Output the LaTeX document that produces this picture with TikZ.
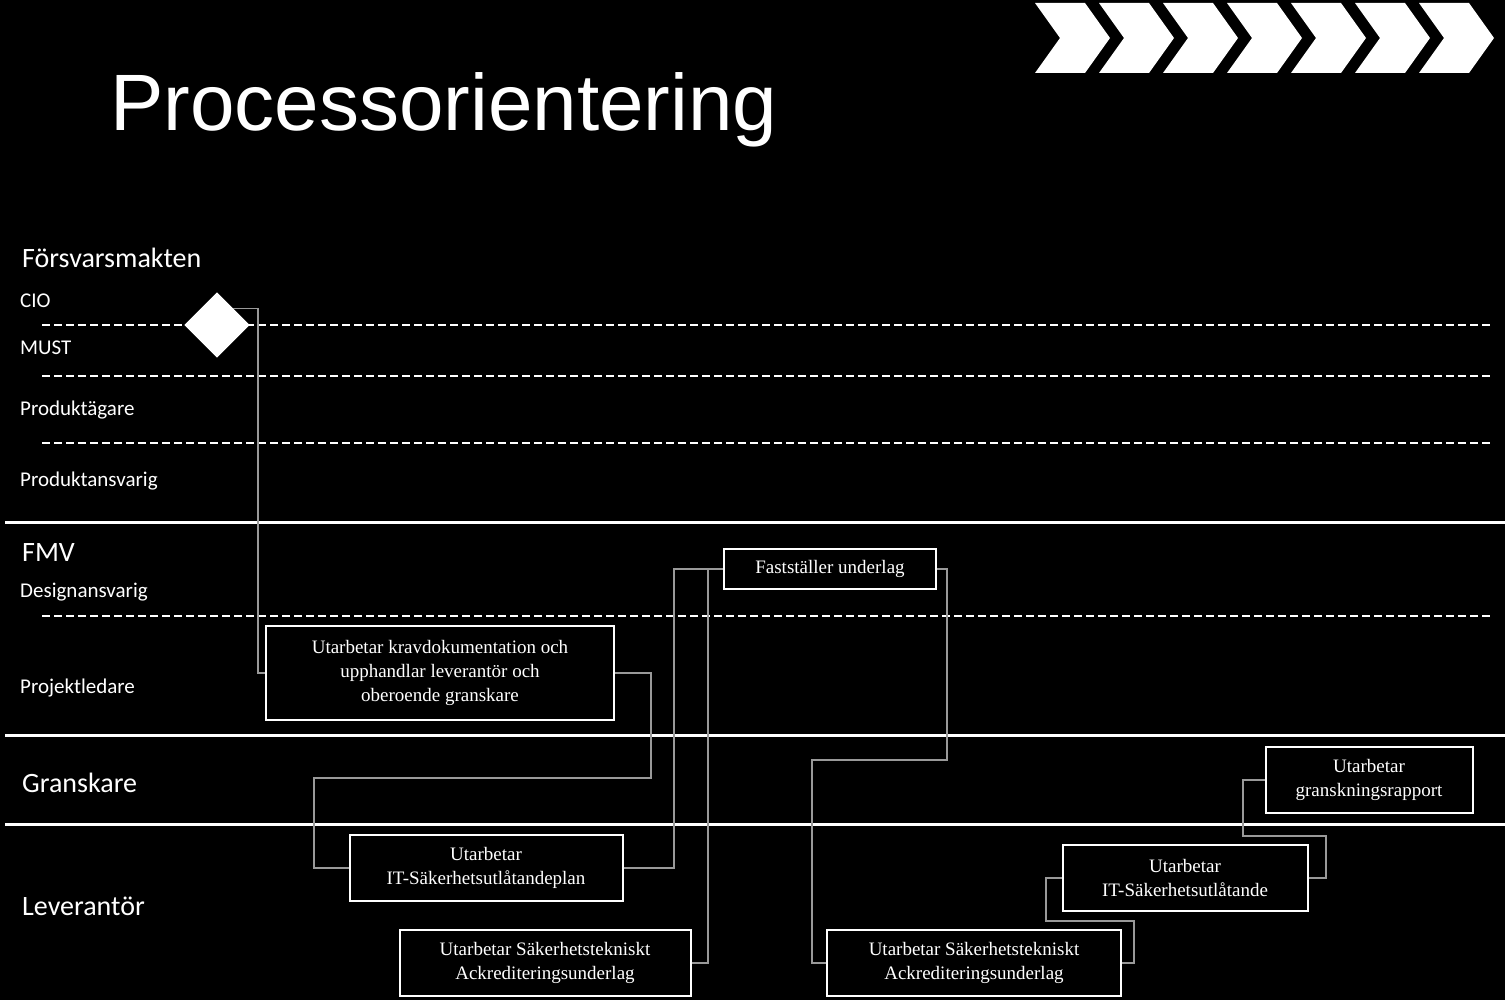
\documentclass[tikz,border=0pt]{standalone}
\usepackage{fontspec}
\setmainfont{Liberation Serif}
\newfontfamily\titlefont{Liberation Sans}
\newfontfamily\labfont{Carlito}
\begin{document}
\begin{tikzpicture}[x=1pt,y=-1pt,
  box/.style={draw=white,line width=2pt,fill=black,text=white,align=center,font=\fontsize{19}{24}\selectfont,inner sep=0pt},
  conn/.style={draw=gray!80,line width=1.2pt},
  lane/.style={anchor=west,text=white,font=\labfont\fontsize{28}{30}\selectfont,inner sep=0pt},
  sub/.style={anchor=west,text=white,font=\labfont\fontsize{21}{24}\selectfont,inner sep=0pt},
  sep/.style={draw=white,line width=3pt},
  dsep/.style={draw=white,line width=1.5pt,dash pattern=on 8pt off 4pt}]
\fill[black] (0,0) rectangle (1505,1000);
\useasboundingbox (0,0) rectangle (1505,1000);
% chevrons
\foreach \i in {0,...,6}{
  \fill[white] ({1035+\i*64},3) -- ({1085+\i*64},3) -- ({1110+\i*64},38) -- ({1085+\i*64},73) -- ({1035+\i*64},73) -- ({1060+\i*64},38) -- cycle;}
\node[anchor=west,text=white,font=\titlefont\fontsize{80}{84}\selectfont,inner sep=0pt] (title) at (110,110) {Processorientering};
% lanes
\draw[sep] (5,522) -- (1505,522);
\draw[sep] (5,735) -- (1505,735);
\draw[sep] (5,824) -- (1505,824);
\foreach \y in {325,376,443,616} \draw[dsep] (42,\y) -- (1490,\y);
\node[lane] (l1) at (22,258) {Försvarsmakten};
\node[sub] (s1) at (20,301) {CIO};
\node[sub] (s2) at (20,348) {MUST};
\node[sub] (s3) at (20,410) {Produktägare};
\node[sub] (s4) at (20,481) {Produktansvarig};
\node[lane] (l2) at (22,553) {FMV};
\node[sub] (s5) at (20,592) {Designansvarig};
\node[sub] (s6) at (20,688) {Projektledare};
\node[lane] (l3) at (22,783) {Granskare};
\node[lane] (l4) at (22,906) {Leverantör};
% nodes
\node[fill=white,minimum size=46pt,rotate=45,inner sep=0pt] (d) at (217,325) {};
\node[box,minimum width=348pt,minimum height=94pt] (b1) at (440,673) {Utarbetar kravdokumentation och\\upphandlar leverantör och\\oberoende granskare};
\node[box,minimum width=273pt,minimum height=66pt] (b2) at (486,868) {Utarbetar\\IT-Säkerhetsutlåtandeplan};
\node[box,minimum width=291pt,minimum height=66pt] (b3) at (545,963) {Utarbetar Säkerhetstekniskt\\Ackrediteringsunderlag};
\node[box,minimum width=212pt,minimum height=40pt] (f) at (830,569) {Fastställer underlag};
\node[box,minimum width=294pt,minimum height=66pt] (b4) at (974,963) {Utarbetar Säkerhetstekniskt\\Ackrediteringsunderlag};
\node[box,minimum width=245pt,minimum height=66pt] (b5) at (1185,878) {Utarbetar\\IT-Säkerhetsutlåtande};
\node[box,minimum width=207pt,minimum height=66pt] (b6) at (1369,780) {Utarbetar\\granskningsrapport};
% connectors
\draw[conn] (d.east) -| (258,673) -- (b1.west);
\draw[conn] (b1.east) -- (651,673) -- (651,778) -- (314,778) -- (314,868) -- (b2.west);
\draw[conn] (b2.east) -- (674,868) -- (674,569) -- (f.west);
\draw[conn] (b3.east) -- (708,963) -- (708,569);
\draw[conn] (f.east) -- (947,569) -- (947,760) -- (812,760) -- (812,963) -- (b4.west);
\draw[conn] (b4.east) -- (1134,963) -- (1134,921) -- (1046,921) -- (1046,878) -- (b5.west);
\draw[conn] (b5.east) -- (1326,878) -- (1326,836) -- (1243,836) -- (1243,780) -- (b6.west);
\end{tikzpicture}
\end{document}
